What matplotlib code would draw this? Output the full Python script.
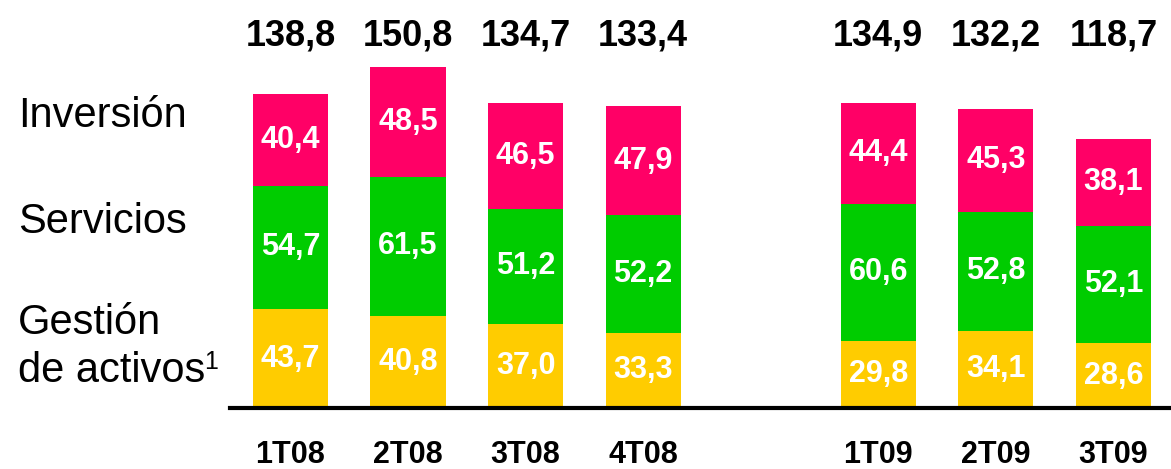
import matplotlib.pyplot as plt

plt.rcParams['font.family'] = ['Liberation Sans', 'DejaVu Sans']

# datos
quarters = ['1T08', '2T08', '3T08', '4T08', '1T09', '2T09', '3T09']
slots = [0, 1, 2, 3, 5, 6, 7]
gestion = [43.7, 40.8, 37.0, 33.3, 29.8, 34.1, 28.6]
servicios = [54.7, 61.5, 51.2, 52.2, 60.6, 52.8, 52.1]
inversion = [40.4, 48.5, 46.5, 47.9, 44.4, 45.3, 38.1]
totals = [138.8, 150.8, 134.7, 133.4, 134.9, 132.2, 118.7]


def fmt(v):
    return f'{v:.1f}'.replace('.', ',')


W, H = 1171, 469
fig = plt.figure(figsize=(W / 100, H / 100), dpi=100)
ax = fig.add_axes([230 / W, (H - 408) / H, (W - 230) / W, 407 / H])

colors = ['#FFCC00', '#00CC00', '#FF0066']
bottom = [0.0] * len(slots)
for series, col in zip([gestion, servicios, inversion], colors):
    ax.bar(slots, series, width=0.64, bottom=bottom, color=col)
    for x, b, v in zip(slots, bottom, series):
        ax.text(x, b + v / 2, fmt(v), ha='center', va='center',
                color='white', fontsize=22, fontweight='bold')
    bottom = [b + v for b, v in zip(bottom, series)]

# totales arriba, todos a la misma altura
for x, t in zip(slots, totals):
    ax.text(x, 160.5, fmt(t), ha='center', va='baseline',
            fontsize=26, fontweight='bold')

ax.set_xlim(-0.515, 7.49)
ax.set_ylim(0, 180)
ax.set_xticks(slots)
ax.set_xticklabels(quarters, fontsize=22, fontweight='bold')
ax.tick_params(axis='x', length=0, pad=23)
ax.set_yticks([])
for s in ['top', 'right', 'left']:
    ax.spines[s].set_visible(False)
ax.spines['bottom'].set_linewidth(3)

# leyenda a la izquierda
fig.text(18 / W, 1 - 116 / H, 'Inversión', fontsize=30, va='center')
fig.text(18 / W, 1 - 222 / H, 'Servicios', fontsize=30, va='center')
fig.text(18 / W, 1 - 323 / H, 'Gestión', fontsize=30, va='center')
t = fig.text(18 / W, 1 - 371 / H, 'de activos', fontsize=30, va='center')

fig.canvas.draw()
bb = t.get_window_extent()
fig.text((bb.x1 - 1) / W, 1 - 350 / H, '1', fontsize=18, va='top')

plt.savefig('out.png', dpi=100)
